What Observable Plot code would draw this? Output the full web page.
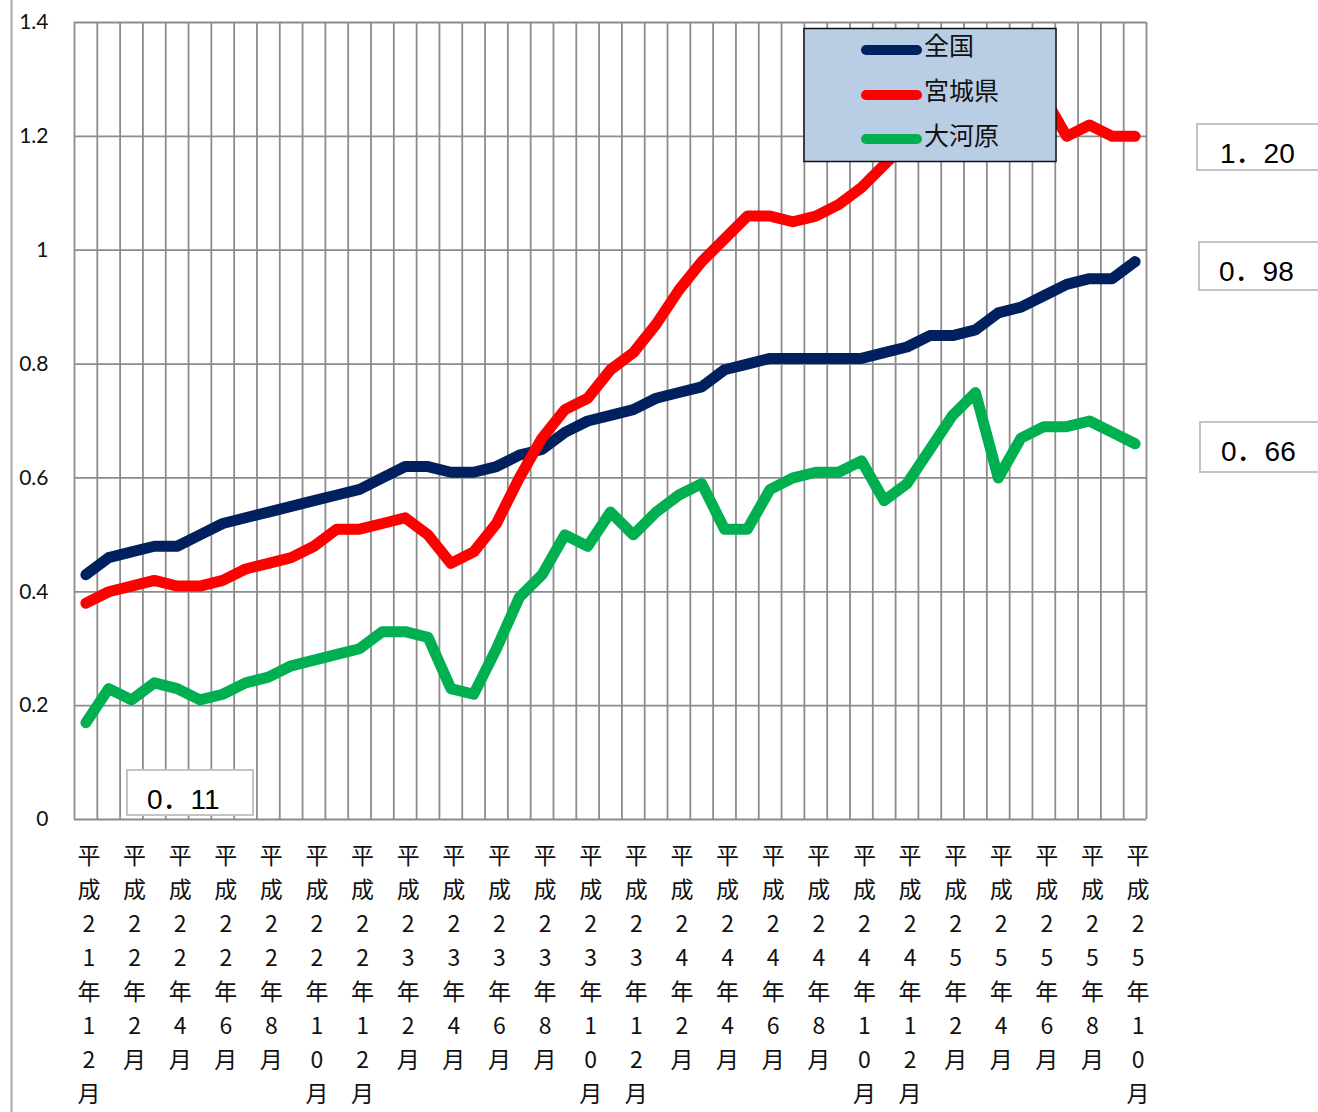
<!DOCTYPE html>
<html><head><meta charset="utf-8">
<script src="https://cdn.jsdelivr.net/npm/d3@7"></script>
<script src="https://cdn.jsdelivr.net/npm/@observablehq/plot@0.6"></script>
<style>
html,body{margin:0;padding:0;background:#fff;}
#chart{position:relative;width:1318px;height:1112px;overflow:hidden;}
</style></head>
<body><div id="chart"></div>
<script>
const categories = [
  "平成21年12月",
  "平成22年1月","平成22年2月","平成22年3月","平成22年4月","平成22年5月","平成22年6月",
  "平成22年7月","平成22年8月","平成22年9月","平成22年10月","平成22年11月","平成22年12月",
  "平成23年1月","平成23年2月","平成23年3月","平成23年4月","平成23年5月","平成23年6月",
  "平成23年7月","平成23年8月","平成23年9月","平成23年10月","平成23年11月","平成23年12月",
  "平成24年1月","平成24年2月","平成24年3月","平成24年4月","平成24年5月","平成24年6月",
  "平成24年7月","平成24年8月","平成24年9月","平成24年10月","平成24年11月","平成24年12月",
  "平成25年1月","平成25年2月","平成25年3月","平成25年4月","平成25年5月","平成25年6月",
  "平成25年7月","平成25年8月","平成25年9月","平成25年10月"
];
const tickLabels = [
  "平成21年12月","平成22年2月","平成22年4月","平成22年6月","平成22年8月","平成22年10月",
  "平成22年12月","平成23年2月","平成23年4月","平成23年6月","平成23年8月","平成23年10月",
  "平成23年12月","平成24年2月","平成24年4月","平成24年6月","平成24年8月","平成24年10月",
  "平成24年12月","平成25年2月","平成25年4月","平成25年6月","平成25年8月","平成25年10月"
];
const national = [0.43,0.46,0.47,0.48,0.48,0.50,0.52,0.53,0.54,0.55,0.56,0.57,0.58,0.60,0.62,0.62,0.61,0.61,0.62,0.64,0.65,0.68,0.70,0.71,0.72,0.74,0.75,0.76,0.79,0.80,0.81,0.81,0.81,0.81,0.81,0.82,0.83,0.85,0.85,0.86,0.89,0.90,0.92,0.94,0.95,0.95,0.98];
const miyagi = [0.38,0.40,0.41,0.42,0.41,0.41,0.42,0.44,0.45,0.46,0.48,0.51,0.51,0.52,0.53,0.50,0.45,0.47,0.52,0.60,0.67,0.72,0.74,0.79,0.82,0.87,0.93,0.98,1.02,1.06,1.06,1.05,1.06,1.08,1.11,1.15,1.19,1.22,1.24,1.26,1.27,1.28,1.27,1.20,1.22,1.20,1.20];
const okawara = [0.17,0.23,0.21,0.24,0.23,0.21,0.22,0.24,0.25,0.27,0.28,0.29,0.30,0.33,0.33,0.32,0.23,0.22,0.30,0.39,0.43,0.50,0.48,0.54,0.50,0.54,0.57,0.59,0.51,0.51,0.58,0.60,0.61,0.61,0.63,0.56,0.59,0.65,0.71,0.75,0.60,0.67,0.69,0.69,0.70,0.68,0.66];
const seriesNames = ["全国","宮城県","大河原"];
const seriesColors = ["#002060","#FF0000","#00B050"];
const yTicks = [0,0.2,0.4,0.6,0.8,1.0,1.2,1.4];
const yTickLabels = ["0","0.2","0.4","0.6","0.8","1","1.2","1.4"];
const valueLabels = ["1．20","0．98","0．66","0．11"];

const seriesValues = [national, miyagi, okawara];
const boundaries = d3.range(categories.length + 1).map(i => i - 0.5);
const gridColor = "#8c8c8c";

const lineMarks = seriesValues.map((vals, s) =>
  Plot.line(vals, {
    x: (d, i) => i, y: d => d,
    stroke: seriesColors[s], strokeWidth: 11,
    strokeLinecap: "round", strokeLinejoin: "round"
  })
);

const chart = Plot.plot({
  width: 1318, height: 1112,
  marginLeft: 74, marginRight: 172, marginTop: 22, marginBottom: 293,
  style: {background: "white", overflow: "hidden"},
  x: {domain: [-0.5, categories.length - 0.5], axis: null},
  y: {domain: [0, 1.4], axis: null},
  marks: [
    Plot.ruleX(boundaries, {x: d => d, stroke: gridColor, strokeWidth: 1.8}),
    Plot.ruleY(yTicks, {y: d => d, stroke: gridColor, strokeWidth: 1.8}),
    ...lineMarks,
    Plot.text(yTicks, {
      y: d => d, text: (d, i) => yTickLabels[i],
      frameAnchor: "left", textAnchor: "end", dx: -26,
      fontSize: 21, fontFamily: "Lato, 'Open Sans', sans-serif", fill: "#111"
    }),
    Plot.text(tickLabels, {
      x: d => categories.indexOf(d), text: d => Array.from(d).join("\n"),
      frameAnchor: "bottom", lineAnchor: "top", textAnchor: "middle",
      dy: 20.4, dx: 3, fontSize: 23, lineHeight: 1.48,
      fontFamily: "'Noto Sans CJK JP', sans-serif", fill: "#111"
    })
  ]
});

const svg = d3.select(chart);
// chart-area left border
svg.append("line").attr("x1", 11.5).attr("x2", 11.5).attr("y1", 0).attr("y2", 1112)
  .attr("stroke", "#a6a6a6").attr("stroke-width", 2);

// legend
const lg = svg.append("g").attr("text-anchor", "start");
lg.append("rect").attr("x", 804).attr("y", 28.5).attr("width", 252).attr("height", 133)
  .attr("fill", "#B9CDE5").attr("stroke", "#111").attr("stroke-width", 1.5);
const legendLineY = [50, 95, 139];
const legendTextY = [55, 100, 144.5];
seriesNames.forEach((name, i) => {
  lg.append("line").attr("x1", 866).attr("x2", 917)
    .attr("y1", legendLineY[i]).attr("y2", legendLineY[i])
    .attr("stroke", seriesColors[i]).attr("stroke-width", 10).attr("stroke-linecap", "round");
  lg.append("text").attr("x", 924).attr("y", legendTextY[i]).attr("text-anchor", "start")
    .attr("font-family", "'Noto Sans CJK JP', sans-serif").attr("font-size", 25)
    .attr("fill", "#111").text(name);
});

// value label boxes
const boxes = [
  {x: 1197, y: 124, w: 140, h: 46, tx: 1220, ty: 163},
  {x: 1199, y: 242, w: 140, h: 48, tx: 1219, ty: 281},
  {x: 1200, y: 422, w: 140, h: 50, tx: 1221, ty: 461},
  {x: 127, y: 770, w: 126, h: 45, tx: 147, ty: 809}
];
const ag = svg.append("g").attr("text-anchor", "start");
boxes.forEach((b, i) => {
  ag.append("rect").attr("x", b.x).attr("y", b.y).attr("width", b.w).attr("height", b.h)
    .attr("fill", "white").attr("stroke", "#c4c4c4").attr("stroke-width", 2);
  ag.append("text").attr("x", b.tx).attr("y", b.ty).attr("text-anchor", "start")
    .attr("font-family", "'Liberation Sans', 'Noto Sans CJK JP', sans-serif").attr("font-size", 28)
    .attr("fill", "#000").text(valueLabels[i]);
});

document.getElementById("chart").appendChild(chart);
</script>
</body></html>
